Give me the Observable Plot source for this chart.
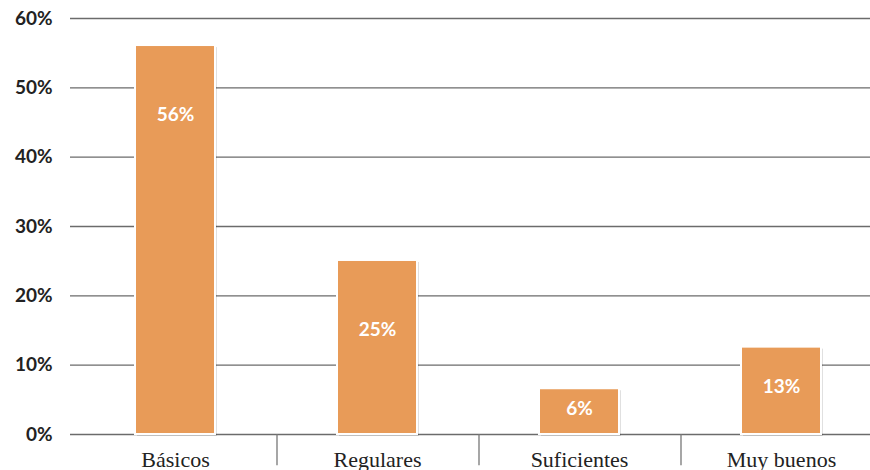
<!DOCTYPE html>
<html>
<head>
<meta charset="utf-8">
<script src="https://cdn.jsdelivr.net/npm/d3@7"></script>
<script src="https://cdn.jsdelivr.net/npm/@observablehq/plot@0.6"></script>
<style>
  html, body { margin: 0; padding: 0; background: #fff; }
  #chart svg { display: block; }
</style>
</head>
<body>
<div id="chart"></div>
<script>
const categories = ["Básicos", "Regulares", "Suficientes", "Muy buenos"];
const values = [56.1, 25.1, 6.6, 12.6];
const valueLabels = ["56%", "25%", "6%", "13%"];
const yTicks = [0, 10, 20, 30, 40, 50, 60];

const data = categories.map((c, i) => ({cat: c, value: values[i], label: valueLabels[i]}));
const dividers = categories.slice(1).map((c, i) => ({left: categories[i], right: c}));

const barColor = "#E89B58";

const chart = Plot.plot({
  width: 870,
  height: 470,
  marginLeft: 70,
  marginRight: 0,
  marginTop: 18,
  marginBottom: 36,
  style: {background: "#fff", overflow: "visible"},
  x: {type: "band", domain: categories, paddingInner: 0.606, paddingOuter: 0.2735, align: 0.568},
  y: {type: "linear", domain: [0, 60]},
  marks: [
    Plot.ruleY(yTicks, {y: d => d, stroke: "#6b6b6b", strokeWidth: 1.3}),
    Plot.axisY({
      ticks: yTicks, tickFormat: d => d + "%", tickSize: 0, tickPadding: 18,
      fontFamily: "Lato", fontWeight: 700, fontSize: 19, fill: "#222", label: null
    }),
    Plot.axisX({ticks: [], label: null, tickSize: 0}),
    // bar shadow
    Plot.barY(data, {x: "cat", y: "value", fill: "#000", fillOpacity: 0.12, dx: 2, dy: 2}),
    Plot.barY(data, {x: "cat", y: "value", fill: barColor, stroke: "#fff", strokeWidth: 2}),
    Plot.text(data, {
      x: "cat",
      y: d => d.value - Math.min(d.value * 0.45, 10),
      text: "label",
      fill: "#fff", fontFamily: "Lato", fontWeight: 700, fontSize: 19
    }),
    // category dividers below the axis
    Plot.ruleX(dividers, {
      x: "left", dx: 101.5, y1: d => 0, y2: d => -4.5,
      stroke: "#777", strokeWidth: 1.3
    }),
    Plot.text(data, {
      x: "cat", y: d => 0, dy: 25, text: "cat",
      fontFamily: "Liberation Serif", fontSize: 22, fill: "#222"
    })
  ]
});

document.getElementById("chart").appendChild(chart);
</script>
</body>
</html>
